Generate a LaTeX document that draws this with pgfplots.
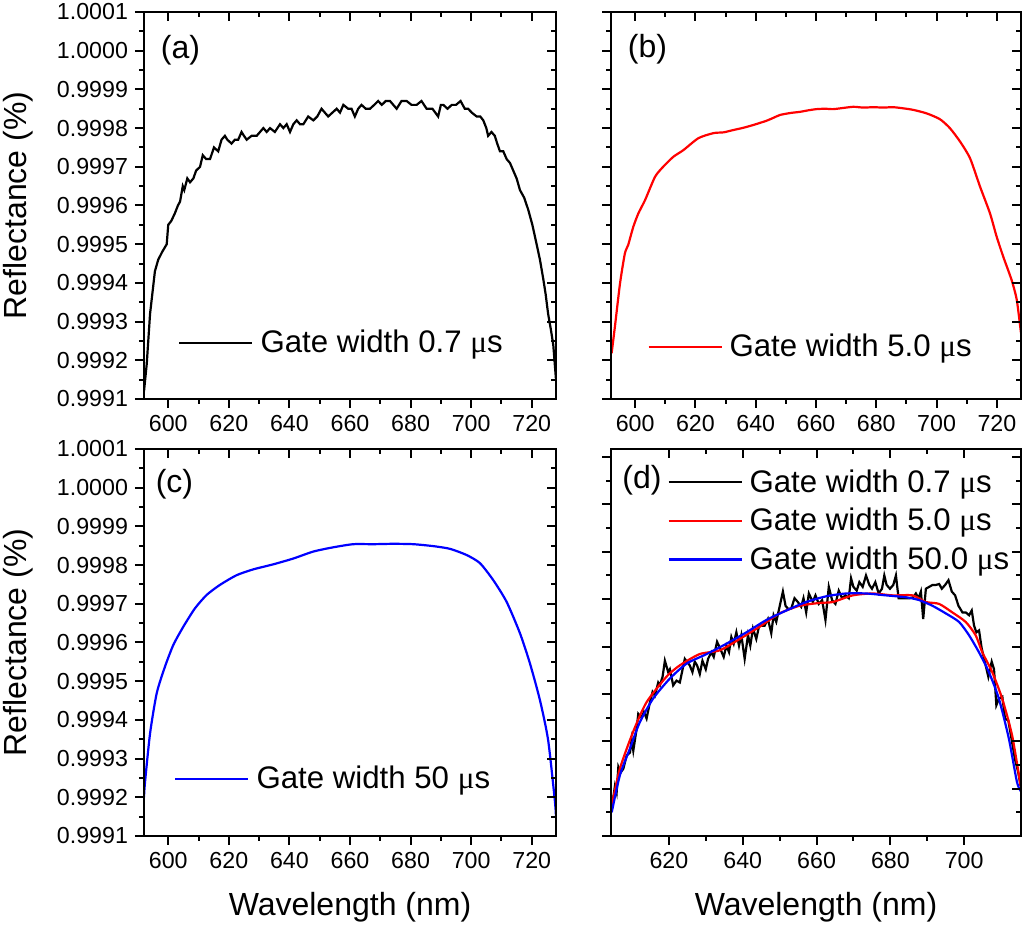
\documentclass[border=0pt]{standalone}
\usepackage{fontspec}
\setmainfont{Liberation Sans}
\newfontfamily\symfont{Liberation Serif}
\usepackage{pgfplots}
\pgfplotsset{compat=1.18}
\newcommand{\mus}{{\symfont μ}s}
\newcommand{\bigf}{\fontsize{16}{19}\selectfont}
\newcommand{\legf}{\fontsize{15.6}{19}\selectfont}

\pgfplotsset{
  base/.style={scale only axis, width=206pt, height=193.5pt,
    xmin=592, xmax=728, ymin=0.9991, ymax=1.0001,
    xtick={600,620,640,660,680,700,720}, minor x tick num=1,
    ytick={0.9991,0.9992,0.9993,0.9994,0.9995,0.9996,0.9997,0.9998,0.9999,1.0000,1.0001},
    minor y tick num=1,
    axis line style={line width=1pt},
    every tick/.style={line width=1pt,black},
    major tick length=4.5pt, minor tick length=2.5pt,
    tick label style={font=\fontsize{11.6}{13}\selectfont},
    /pgf/number format/assume math mode=true,
    yticklabel style={/pgf/number format/.cd, fixed, fixed zerofill, precision=4},
    label style={font=\bigf},
    legend style={draw=none, fill=none, inner sep=0pt, font=\legf,
      nodes={inner sep=0pt}, row sep=6.5pt,
      /tikz/every odd column/.append style={column sep=3.5pt}},
    legend cell align=left,
    legend image code/.code={\draw[##1,line width=1.1pt] (0pt,0pt) -- (36.5pt,0pt);},
    every axis plot/.append style={line width=1.1pt},
  },
  dax/.style={base, xmin=604.3, xmax=715.4, ymin=0.9996, ymax=1.0000085,
    xtick={620,640,660,680,700},
    ytick={0.9996,0.99965,0.9997,0.99975,0.9998,0.99985,0.9999,0.99995,1.0},
    yticklabels={}},
  mainax/.style={xtick pos=left, ytick pos=left, tick align=outside},
  mirror/.style={xtick pos=right, ytick pos=right, tick align=inside,
    xticklabels={}, yticklabels={}},
  ylab/.style={ylabel={Reflectance (\%)},
    ylabel style={at={(axis description cs:-0.305,0.5)}, anchor=center}},
  xlab/.style={xlabel={Wavelength (nm)},
    xlabel style={at={(axis description cs:0.5,-0.185)}, anchor=center}},
}

\begin{document}
\begin{tikzpicture}
\useasboundingbox (0,0) rectangle (512pt,463pt);

% ---------------- (a)
\begin{axis}[base, mainax, ylab, at={(72pt,263.5pt)},
  legend style={at={(axis description cs:0.0825,0.1447)}, anchor=west}]
\addplot[black] coordinates {
(592.0,0.99912) (592.9,0.99919) (594.0,0.99932) (595.6,0.99943) (596.7,0.99946)
(598.0,0.99948) (599.5,0.99950) (600.0,0.99955) (601.0,0.99956) (602.2,0.99958)
(603.2,0.99960) (603.9,0.99961) (604.8,0.99965) (605.3,0.99964) (606.3,0.99967)
(607.2,0.99966) (608.3,0.99967) (609.2,0.99969) (610.5,0.99970) (611.4,0.99973)
(612.5,0.99972) (613.8,0.99972) (615.1,0.99975) (616.5,0.99974) (617.6,0.99977)
(618.7,0.99978) (619.5,0.99977) (620.9,0.99976) (622.0,0.99977) (623.1,0.99977)
(624.2,0.99979) (625.0,0.99978) (625.9,0.99977) (627.5,0.99978) (629.2,0.99978)
(630.3,0.99979) (631.4,0.99980) (632.5,0.99979) (633.6,0.99980) (635.2,0.99979)
(636.9,0.99981) (638.0,0.99980) (639.1,0.99981) (640.2,0.99979) (641.3,0.99981)
(642.4,0.99982) (643.5,0.99981) (644.6,0.99981) (646.2,0.99983) (647.9,0.99982)
(649.2,0.99983) (650.6,0.99985) (651.7,0.99984) (652.8,0.99983) (654.2,0.99984)
(655.6,0.99985) (656.7,0.99984) (657.8,0.99986) (659.4,0.99985) (660.5,0.99985)
(661.6,0.99983) (662.7,0.99985) (663.8,0.99986) (665.2,0.99985) (666.6,0.99985)
(668.0,0.99986) (669.3,0.99987) (670.5,0.99986) (671.8,0.99987) (673.2,0.99987)
(674.3,0.99986) (675.4,0.99985) (677.0,0.99987) (678.7,0.99987) (680.3,0.99986)
(682.0,0.99986) (683.6,0.99987) (685.3,0.99985) (687.2,0.99985) (689.1,0.99983)
(690.0,0.99986) (690.8,0.99986) (692.2,0.99985) (693.6,0.99986) (695.0,0.99986)
(696.5,0.99987) (697.9,0.99985) (699.0,0.99985) (700.2,0.99984) (701.8,0.99983)
(703.0,0.99983) (704.0,0.99982) (705.0,0.99980) (705.6,0.99978) (706.7,0.99979)
(707.8,0.99978) (708.6,0.99976) (709.5,0.99974) (710.6,0.99974) (711.7,0.99972)
(712.8,0.99971) (713.9,0.99969) (715.0,0.99967) (716.1,0.99964) (717.5,0.99962)
(718.8,0.99959) (720.2,0.99955) (721.6,0.99950) (722.7,0.99946) (723.8,0.99941)
(724.6,0.99937) (725.4,0.99932) (726.3,0.99928) (727.1,0.99924) (728.0,0.99915)
};
\addlegendentry{Gate width 0.7 \mus}
\node[font=\bigf] at (axis description cs:0.0886,0.902) {(a)};
\end{axis}
\begin{axis}[base, mirror, at={(72pt,263.5pt)}]
\end{axis}

% ---------------- (b)
\begin{axis}[base, mainax, yticklabels={}, at={(305.5pt,263.5pt)}, width=205pt,
  legend style={at={(axis description cs:0.0878,0.1344)}, anchor=west}]
\addplot[red, smooth, tension=0.4] coordinates {
(592.2,0.999218) (593.3,0.999287) (595.0,0.999399) (596.6,0.999476) (597.7,0.999498)
(599.4,0.999545) (601.1,0.999580) (603.3,0.999614) (606.6,0.999674) (609.3,0.999700)
(612.7,0.999726) (616.0,0.999743) (621.0,0.999774) (626.0,0.999787) (629.3,0.999789)
(632.6,0.999795) (636.0,0.999801) (639.2,0.999808) (643.6,0.999819) (646.0,0.999827)
(648.1,0.999834) (651.5,0.999839) (654.7,0.999842) (657.5,0.999846) (660.2,0.999849)
(663.0,0.999850) (665.7,0.999849) (669.0,0.999852) (672.4,0.999855) (675.7,0.999853)
(679.0,0.999854) (682.3,0.999853) (685.6,0.999854) (689.0,0.999851) (692.3,0.999847)
(696.7,0.999838) (701.1,0.999823) (704.4,0.999800) (707.8,0.999765) (711.1,0.999722)
(714.4,0.999649) (717.7,0.999580) (719.9,0.999520) (722.1,0.999468) (724.9,0.999407)
(726.6,0.999356) (728.0,0.999270)
};
\addlegendentry{Gate width 5.0 \mus}
\node[font=\bigf] at (axis description cs:0.089,0.904) {(b)};
\end{axis}
\begin{axis}[base, mirror, at={(305.5pt,263.5pt)}, width=205pt]
\end{axis}

% ---------------- (c)
\begin{axis}[base, mainax, ylab, xlab, at={(72pt,45pt)},
  legend style={at={(axis description cs:0.0728,0.1473)}, anchor=west}]
\addplot[blue, smooth, tension=0.4] coordinates {
(592.0,0.999200) (592.3,0.999236) (594.0,0.999365) (596.2,0.999469) (598.9,0.999537)
(601.7,0.999594) (605.0,0.999641) (608.8,0.999688) (612.7,0.999723) (617.1,0.999749)
(622.6,0.999774) (628.1,0.999789) (634.7,0.999802) (641.3,0.999817) (647.9,0.999835)
(654.5,0.999846) (661.1,0.999854) (667.7,0.999854) (674.3,0.999855) (680.9,0.999854)
(687.5,0.999849) (693.0,0.999842) (698.5,0.999826) (702.9,0.999805) (707.3,0.999761)
(711.7,0.999705) (716.1,0.999624) (719.4,0.999546) (722.7,0.999451) (725.4,0.999348)
(727.6,0.999193) (728.0,0.999150)
};
\addlegendentry{Gate width 50 \mus}
\node[font=\bigf] at (axis description cs:0.074,0.908) {(c)};
\end{axis}
\begin{axis}[base, mirror, at={(72pt,45pt)}]
\end{axis}

% ---------------- (d)
\begin{axis}[dax, mainax, xlab, at={(305.5pt,45pt)}, width=205pt,
  legend style={at={(axis description cs:0.1366,0.948)}, anchor=north west}]
\addplot[black] coordinates {
(604.48,0.999629) (605.38,0.999653) (605.83,0.999646) (606.29,0.999673) (606.92,0.999667)
(607.64,0.999671) (608.54,0.999685) (609.44,0.999688) (609.89,0.999702) (610.34,0.999690)
(611.24,0.999713) (611.69,0.999729) (612.59,0.999725) (613.22,0.999731) (613.94,0.999724)
(614.84,0.999741) (615.56,0.999752) (616.19,0.999748) (617.09,0.999762) (617.55,0.999759)
(618.27,0.999768) (618.90,0.999785) (619.80,0.999773) (620.25,0.999776) (621.15,0.999759)
(622.05,0.999764) (622.95,0.999762) (624.30,0.999787) (625.65,0.999780) (626.37,0.999773)
(627.01,0.999784) (627.64,0.999780) (628.36,0.999771) (629.08,0.999785) (629.98,0.999776)
(630.61,0.999787) (631.51,0.999794) (632.14,0.999789) (633.04,0.999805) (633.76,0.999799)
(634.84,0.999789) (635.56,0.999801) (636.28,0.999794) (636.91,0.999810) (637.55,0.999803)
(638.27,0.999815) (638.99,0.999801) (639.62,0.999812) (640.52,0.999787) (641.42,0.999812)
(642.05,0.999801) (642.77,0.999819) (643.67,0.999808) (644.39,0.999821) (645.02,0.999822)
(645.92,0.999822) (646.82,0.999829) (647.73,0.999814) (648.36,0.999833) (649.08,0.999826)
(649.98,0.999842) (650.88,0.999858) (651.60,0.999843) (652.23,0.999840) (653.13,0.999840)
(654.03,0.999851) (654.93,0.999847) (655.83,0.999842) (656.46,0.999851) (657.19,0.999836)
(657.91,0.999856) (658.99,0.999847) (659.71,0.999854) (660.61,0.999845) (661.51,0.999849)
(662.41,0.999828) (663.31,0.999863) (664.21,0.999849) (665.11,0.999845) (666.01,0.999859)
(666.92,0.999851) (667.82,0.999854) (668.72,0.999851) (669.35,0.999872) (669.98,0.999863)
(670.88,0.999859) (671.60,0.999868) (672.50,0.999863) (673.40,0.999875) (674.30,0.999865)
(675.02,0.999861) (675.92,0.999868) (676.83,0.999856) (677.73,0.999861) (678.36,0.999875)
(678.99,0.999865) (679.89,0.999861) (680.79,0.999865) (681.51,0.999875) (682.23,0.999851)
(683.31,0.999851) (684.21,0.999851) (685.29,0.999851) (686.19,0.999852) (686.92,0.999856)
(687.64,0.999851) (688.27,0.999858) (688.90,0.999829) (689.62,0.999861) (690.52,0.999863)
(691.42,0.999865) (692.32,0.999865) (693.22,0.999866) (693.94,0.999861) (694.84,0.999865)
(695.74,0.999870) (696.65,0.999858) (697.55,0.999854) (698.45,0.999843) (699.53,0.999836)
(700.43,0.999836) (701.33,0.999833) (702.05,0.999838) (702.68,0.999822) (703.31,0.999815)
(704.03,0.999817) (704.75,0.999798) (705.83,0.999780) (706.55,0.999768) (707.46,0.999784)
(708.09,0.999776) (708.72,0.999738) (709.44,0.999745) (710.34,0.999747) (711.06,0.999724)
(711.96,0.999722) (712.86,0.999702) (713.76,0.999681) (714.66,0.999667) (715.29,0.999653)
};
\addlegendentry{Gate width 0.7 \mus}
\addplot[red, smooth, tension=0.4] coordinates {
(604.5,0.999632) (606.7,0.999671) (610.3,0.999710) (613.9,0.999741) (619.3,0.999768)
(622.9,0.999780) (628.3,0.999792) (633.8,0.999796) (639.2,0.999808) (644.6,0.999821)
(650.0,0.999835) (655.4,0.999843) (660.8,0.999846) (664.4,0.999847) (669.8,0.999854)
(675.2,0.999856) (680.6,0.999854) (686.0,0.999854) (689.6,0.999847) (693.2,0.999845)
(696.8,0.999836) (700.4,0.999826) (703.1,0.999812) (704.9,0.999794) (707.6,0.999773)
(710.3,0.999745) (713.0,0.999706) (715.3,0.999653)
};
\addlegendentry{Gate width 5.0 \mus}
\addplot[blue, smooth, tension=0.4] coordinates {
(604.5,0.999625) (606.7,0.999664) (609.4,0.999692) (612.1,0.999720) (615.7,0.999745)
(620.2,0.999766) (624.8,0.999782) (630.2,0.999792) (635.6,0.999803) (641.0,0.999815)
(646.4,0.999828) (651.8,0.999838) (657.2,0.999847) (662.6,0.999853) (668.0,0.999856)
(673.4,0.999856) (678.8,0.999854) (684.2,0.999852) (687.8,0.999849) (691.4,0.999843)
(695.0,0.999835) (698.6,0.999826) (701.3,0.999812) (704.0,0.999794) (706.7,0.999773)
(709.4,0.999745) (712.1,0.999703) (714.3,0.999657) (715.4,0.999647)
};
\addlegendentry{Gate width 50.0 \mus}
\node[font=\bigf] at (axis description cs:0.0756,0.9186) {(d)};
\end{axis}
\begin{axis}[dax, mirror, at={(305.5pt,45pt)}, width=205pt]
\end{axis}
\end{tikzpicture}
\end{document}
